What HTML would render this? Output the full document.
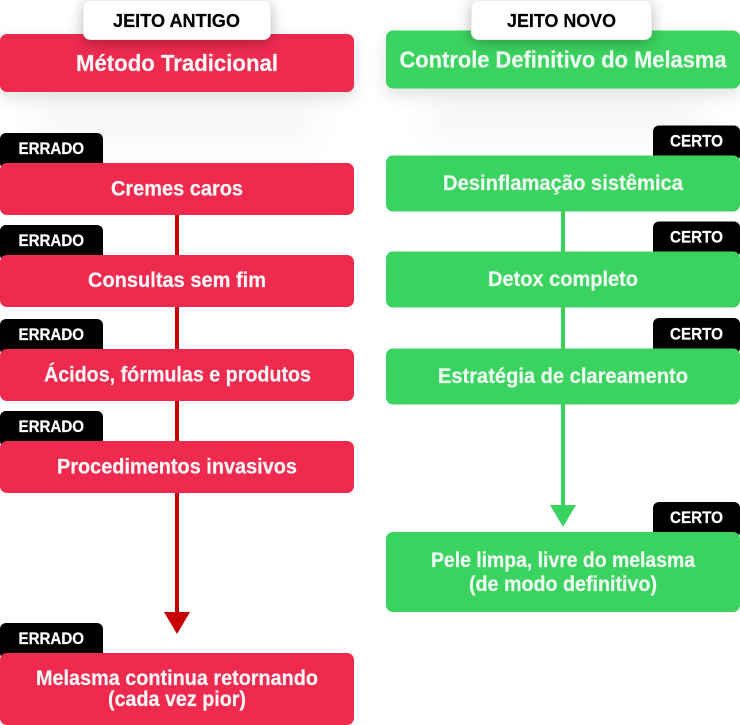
<!DOCTYPE html>
<html lang="pt"><head><meta charset="utf-8"><style>
html,body{margin:0;padding:0;background:#fff}
svg{display:block}
text{font-family:"Liberation Sans",sans-serif;font-weight:700;text-anchor:start}
.w{fill:#fdf7f8;font-size:21px;stroke:#fdf7f8;stroke-width:.2px}
.g{fill:#effbf2;font-size:21px;stroke:#effbf2;stroke-width:.2px}
.t{fill:#fff;font-size:16.5px;stroke:#fff;stroke-width:.25px}
.p{fill:#000;font-size:18.500px;stroke:#000;stroke-width:.2px}
</style></head><body>
<svg width="740" height="725" viewBox="0 0 740 725" xmlns="http://www.w3.org/2000/svg">
<defs>
<filter id="s" x="-20%" y="-50%" width="140%" height="300%"><feDropShadow dx="0" dy="6" stdDeviation="8" flood-color="#000" flood-opacity=".12"/></filter>
<filter id="p" x="-30%" y="-50%" width="160%" height="220%"><feDropShadow dx="0" dy="3" stdDeviation="7" flood-color="#000" flood-opacity=".28"/></filter>
<filter id="b" x="-30%" y="-60%" width="160%" height="220%"><feGaussianBlur stdDeviation="16"/></filter>
</defs>
<rect x="40" y="96" width="274" height="46" fill="#000" fill-opacity=".035" filter="url(#b)"/>
<rect x="430" y="92" width="270" height="46" fill="#000" fill-opacity=".035" filter="url(#b)"/>
<!-- connectors -->
<rect x="175" y="215" width="4" height="398" fill="#c80000"/>
<path d="M164 612H190L177 634Z" fill="#c80000"/>
<rect x="561" y="211" width="4" height="295" fill="#39d35f"/>
<path d="M550 505H576L563 527Z" fill="#39d35f"/>
<!-- tags left -->
<g fill="#000">
<rect x="0" y="133" width="103" height="36" rx="6"/>
<rect x="0" y="225" width="103" height="36" rx="6"/>
<rect x="0" y="319" width="103" height="36" rx="6"/>
<rect x="0" y="411" width="103" height="36" rx="6"/>
<rect x="0" y="623" width="103" height="36" rx="6"/>
<rect x="653" y="125.500" width="87" height="36" rx="6"/>
<rect x="653" y="221.500" width="87" height="36" rx="6"/>
<rect x="653" y="318" width="87" height="36" rx="6"/>
<rect x="653" y="502" width="87" height="36" rx="6"/>
</g>
<!-- left boxes -->
<g fill="#ee2b4f">
<rect x="0" y="34" width="354" height="58" rx="7" filter="url(#s)"/>
<rect x="0" y="163" width="354" height="52" rx="7"/>
<rect x="0" y="255" width="354" height="52" rx="7"/>
<rect x="0" y="349" width="354" height="52" rx="7"/>
<rect x="0" y="441" width="354" height="52" rx="7"/>
<rect x="0" y="653" width="354" height="72" rx="7"/>
</g>
<!-- right boxes -->
<g fill="#3bd35f">
<rect x="386" y="30.500" width="354" height="58" rx="7" filter="url(#s)"/>
<rect x="386" y="155.500" width="354" height="56" rx="7"/>
<rect x="386" y="251.500" width="354" height="56" rx="7"/>
<rect x="386" y="348.500" width="354" height="56" rx="7"/>
<rect x="386" y="532" width="354" height="80" rx="7"/>
</g>
<!-- pills -->
<rect x="83.500" y="0.500" width="187" height="39" rx="7" fill="#fff" stroke="#eee" filter="url(#p)"/>
<rect x="471.500" y="0.500" width="180" height="39" rx="7" fill="#fff" stroke="#eee" filter="url(#p)"/>
<text class="p" x="113" y="27" textLength="127" lengthAdjust="spacingAndGlyphs">JEITO ANTIGO</text>
<text class="p" x="507" y="27" textLength="109" lengthAdjust="spacingAndGlyphs">JEITO NOVO</text>
<!-- left text -->
<text class="w" x="76" y="71" style="font-size:23px" textLength="202" lengthAdjust="spacingAndGlyphs">Método Tradicional</text>
<text class="w" x="111" y="195.500" textLength="132" lengthAdjust="spacingAndGlyphs">Cremes caros</text>
<text class="w" x="88" y="287" textLength="178" lengthAdjust="spacingAndGlyphs">Consultas sem fim</text>
<text class="w" x="44" y="381.500" textLength="267" lengthAdjust="spacingAndGlyphs">Ácidos, fórmulas e produtos</text>
<text class="w" x="57" y="473.500" textLength="240" lengthAdjust="spacingAndGlyphs">Procedimentos invasivos</text>
<text class="w" x="36" y="685" textLength="282" lengthAdjust="spacingAndGlyphs">Melasma continua retornando</text>
<text class="w" x="108" y="706" textLength="138" lengthAdjust="spacingAndGlyphs">(cada vez pior)</text>
<!-- right text -->
<text class="g" x="399.500" y="67.500" style="font-size:23px" textLength="327" lengthAdjust="spacingAndGlyphs">Controle Definitivo do Melasma</text>
<text class="g" x="443" y="190" textLength="240" lengthAdjust="spacingAndGlyphs">Desinflamação sistêmica</text>
<text class="g" x="488" y="286" textLength="150" lengthAdjust="spacingAndGlyphs">Detox completo</text>
<text class="g" x="438" y="383" textLength="250" lengthAdjust="spacingAndGlyphs">Estratégia de clareamento</text>
<text class="g" x="431" y="567" textLength="264" lengthAdjust="spacingAndGlyphs">Pele limpa, livre do melasma</text>
<text class="g" x="469" y="591" textLength="188" lengthAdjust="spacingAndGlyphs">(de modo definitivo)</text>
<!-- tag text -->
<text class="t" x="18.500" y="154" textLength="65.500" lengthAdjust="spacingAndGlyphs">ERRADO</text>
<text class="t" x="18.500" y="246" textLength="65.500" lengthAdjust="spacingAndGlyphs">ERRADO</text>
<text class="t" x="18.500" y="340" textLength="65.500" lengthAdjust="spacingAndGlyphs">ERRADO</text>
<text class="t" x="18.500" y="432" textLength="65.500" lengthAdjust="spacingAndGlyphs">ERRADO</text>
<text class="t" x="18.500" y="644" textLength="65.500" lengthAdjust="spacingAndGlyphs">ERRADO</text>
<text class="t" x="670" y="146.500" textLength="53" lengthAdjust="spacingAndGlyphs">CERTO</text>
<text class="t" x="670" y="242.500" textLength="53" lengthAdjust="spacingAndGlyphs">CERTO</text>
<text class="t" x="670" y="339.500" textLength="53" lengthAdjust="spacingAndGlyphs">CERTO</text>
<text class="t" x="670" y="523" textLength="53" lengthAdjust="spacingAndGlyphs">CERTO</text>
</svg>
</body></html>
